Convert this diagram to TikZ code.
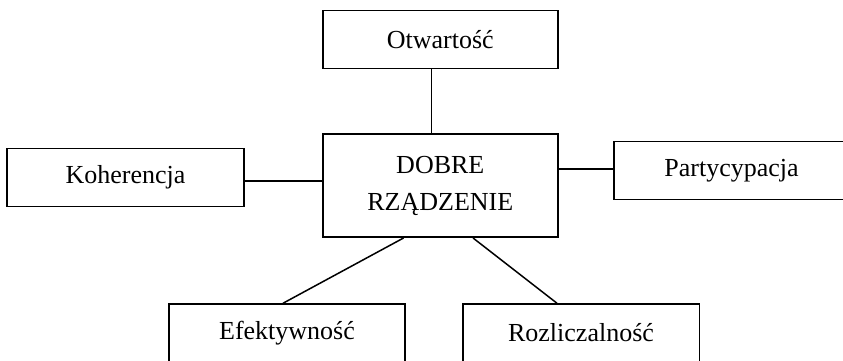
\documentclass[tikz,border=0pt]{standalone}
\usepackage{fontspec}
\setmainfont{Liberation Serif}
\begin{document}
\begin{tikzpicture}[x=1pt,y=-1pt,
  box/.style={draw=black,line width=1.5pt,minimum width=235pt,minimum height=57.6pt,inner sep=0pt,font=\fontsize{26}{37}\selectfont,align=center},
  link/.style={draw=black,line width=1.5pt}]
\useasboundingbox (0,0) rectangle (843,360);
\node[box] (otw) at (440.3,39.5) {Otwartość};
\node[box,minimum height=103pt] (dobre) at (440.3,185.7) {DOBRE\\RZĄDZENIE};
\node[box,minimum width=237pt,minimum height=58.4pt] (koh) at (125.5,177.5) {Koherencja};
\node[box] (part) at (731.5,170.5) {Partycypacja};
\node[box,minimum width=236pt] (efek) at (287,332.8) {Efektywność};
\node[box,minimum width=236.5pt] (rozl) at (581,332.8) {Rozliczalność};
\draw[link] ([xshift=-9pt]otw.south) -- ([xshift=-9pt]dobre.north);
\draw[link] ([yshift=-3.5pt]koh.east) -- ([yshift=-3.5pt]koh.east -| dobre.west);
\draw[link] ([yshift=1.5pt]part.west) -- ([yshift=1.5pt]part.west -| dobre.east);
\draw[link] ([xshift=-36.7pt]dobre.south) -- ([xshift=-4pt]efek.north);
\draw[link] ([xshift=32.7pt]dobre.south) -- ([xshift=-24pt]rozl.north);
\end{tikzpicture}
\end{document}
